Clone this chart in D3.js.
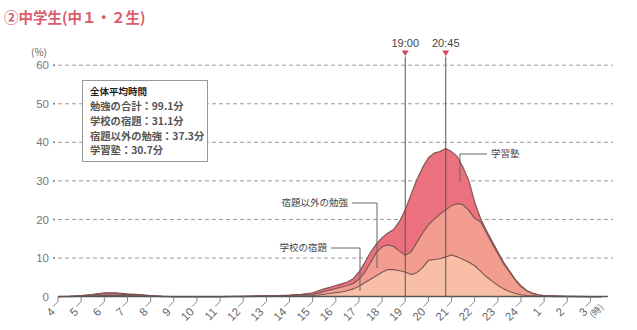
<!DOCTYPE html>
<html>
<head>
<meta charset="utf-8">
<script src="https://cdn.jsdelivr.net/npm/d3@7"></script>
<style>
  html, body { margin: 0; padding: 0; background: #fff; }
  svg { display: block; font-family: "Noto Sans CJK JP", "Noto Sans", sans-serif; }
</style>
</head>
<body>
<svg id="chart" width="637" height="330"></svg>
<script>
// ---- data ----
const hours = [4, 4.5, 5, 5.5, 6, 6.5, 7, 7.5, 8, 8.5, 9, 10, 11, 12, 13, 13.5, 14, 14.5,
  15, 15.25, 15.5, 15.75, 16, 16.25, 16.5, 16.75, 17, 17.25, 17.5, 17.75, 18, 18.25, 18.5, 18.75,
  19, 19.25, 19.5, 19.75, 20, 20.25, 20.5, 20.75, 21, 21.25, 21.5, 21.75, 22, 22.25, 22.5, 22.75,
  23, 23.25, 23.5, 23.75, 24, 24.25, 24.5, 24.75, 25, 25.5, 26, 26.5, 27, 27.5];
// 学校の宿題 (school homework)
const homework = [0, 0, 0.1, 0.2, 0.3, 0.3, 0.3, 0.2, 0.1, 0, 0, 0, 0, 0, 0.1, 0.1, 0.2, 0.2,
  0.3, 0.4, 0.6, 0.8, 1.0, 1.2, 1.5, 2.0, 2.7, 3.6, 4.5, 5.4, 6.3, 7.0, 7.0, 6.7,
  6.4, 5.7, 6.2, 7.5, 9.4, 9.6, 9.8, 10.3, 10.8, 10.3, 9.6, 8.9, 8.0, 6.6, 5.2, 4.0,
  2.9, 2.0, 1.3, 0.8, 0.5, 0.3, 0.2, 0.1, 0.1, 0, 0, 0, 0, 0];
// 宿題以外の勉強 (study other than homework)
const otherStudy = [0, 0.1, 0.1, 0.2, 0.4, 0.4, 0.2, 0.2, 0.1, 0.1, 0, 0, 0, 0.1, 0.1, 0.2, 0.1, 0.3,
  0.3, 0.5, 0.7, 0.9, 1.1, 1.3, 1.4, 1.4, 1.8, 2.7, 4.3, 6.0, 6.6, 6.4, 6.0, 5.1,
  4.3, 5.9, 7.8, 9.0, 9.2, 10.4, 11.6, 12.2, 12.8, 13.8, 14.2, 13.4, 12.3, 12.8, 11.4, 9.8,
  8.2, 6.5, 5.1, 3.5, 2.1, 1.2, 0.6, 0.3, 0.1, 0.1, 0.1, 0, 0, 0];
// 学習塾 (cram school)
const juku = [0, 0, 0.1, 0.2, 0.3, 0.3, 0.2, 0.1, 0.1, 0, 0, 0, 0, 0, 0, 0, 0.1, 0.1,
  0.4, 0.6, 0.7, 0.7, 0.8, 0.8, 0.9, 1.2, 1.9, 2.5, 2.7, 2.2, 2.4, 3.1, 4.4, 7.7,
  11.8, 14.9, 16.3, 17.0, 17.4, 17.2, 16.2, 15.9, 14.0, 12.2, 9.7, 7.7, 4.2, 0.9, 0.6, 0.6,
  0.5, 0.4, 0.3, 0.2, 0.2, 0.1, 0.1, 0.1, 0.1, 0.1, 0, 0.1, 0, 0];

const yTicks = [0, 10, 20, 30, 40, 50, 60];
const xTickHours = [4, 5, 6, 7, 8, 9, 10, 11, 12, 13, 14, 15, 16, 17, 18, 19, 20, 21, 22, 23, 24, 25, 26, 27];
const xTickLabels = ["4", "5", "6", "7", "8", "9", "10", "11", "12", "13", "14", "15", "16", "17", "18",
  "19", "20", "21", "22", "23", "24", "1", "2", "3"];
const markerTimes = [19, 20.75];
const markerLabels = ["19:00", "20:45"];
const legendTitle = "全体平均時間";
const legendLines = ["勉強の合計：99.1分", "学校の宿題：31.1分", "宿題以外の勉強：37.3分", "学習塾：30.7分"];
const seriesKeys = ["homework", "otherStudy", "juku"];
const seriesNames = ["学校の宿題", "宿題以外の勉強", "学習塾"];
const title = "②中学生(中１・２生)";

// ---- layout ----
const svg = d3.select("#chart");
const x = d3.scaleLinear().domain([4, 28]).range([58, 613.6]);
const y = d3.scaleLinear().domain([0, 60]).range([296.6, 65.2]);
const axisEndHour = 27.75;

const table = hours.map((h, i) => ({ h, homework: homework[i], otherStudy: otherStudy[i], juku: juku[i] }));
const stacked = d3.stack().keys(seriesKeys)(table);
const fills = ["#f8bfa6", "#f39c90", "#ea717d"];

// title
svg.append("text").attr("x", 4).attr("y", 23).attr("fill", "#dd5b6c")
  .attr("font-size", 14.5).attr("font-weight", 700).text(title);

// (%) label
svg.append("text").attr("x", 31).attr("y", 56).attr("fill", "#666").attr("font-size", 10).text("(%)");

// grid lines
const grid = svg.append("g");
yTicks.filter(d => d > 0).forEach(d => {
  grid.append("line").attr("x1", 58).attr("x2", 613).attr("y1", y(d)).attr("y2", y(d))
    .attr("stroke", "#9a9a9a").attr("stroke-width", 1).attr("stroke-dasharray", "4,3");
  grid.append("circle").attr("cx", 54).attr("cy", y(d)).attr("r", 1).attr("fill", "#777");
});
yTicks.forEach(d => {
  grid.append("text").attr("x", 49).attr("y", y(d)).attr("dy", "0.36em").attr("text-anchor", "end")
    .attr("fill", "#777").attr("font-size", 11.5).attr("font-family", "Liberation Sans, Arial, sans-serif").text(d);
});

// areas
const area = d3.area().x(d => x(d.data.h)).y0(d => y(d[0])).y1(d => y(d[1])).curve(d3.curveLinear);
const line = d3.line().x(d => x(d.data.h)).y(d => y(d[1])).curve(d3.curveLinear);
svg.append("g").selectAll("path").data(stacked).join("path")
  .attr("d", area).attr("fill", (d, i) => fills[i]);
svg.append("g").selectAll("path").data(stacked).join("path")
  .attr("d", line).attr("fill", "none").attr("stroke", "#7a5352").attr("stroke-width", 1.1)
  .attr("stroke-linejoin", "round");

// x axis baseline and ticks
const ax = svg.append("g");
ax.append("line").attr("x1", x(4)).attr("x2", x(axisEndHour)).attr("y1", y(0)).attr("y2", y(0))
  .attr("stroke", "#555").attr("stroke-width", 1.5);
xTickHours.forEach((h, i) => {
  const tx = x(h), ty = y(0);
  ax.append("path").attr("d", `M${tx},${ty} L${tx},${ty + 5} L${tx - 5},${ty + 10}`)
    .attr("fill", "none").attr("stroke", "#777").attr("stroke-width", 0.9);
  ax.append("text").attr("transform", `translate(${tx - 5},${ty + 13}) rotate(-45)`)
    .attr("text-anchor", "end").attr("dy", "0.35em").attr("fill", "#666").attr("font-size", 11.5)
    .attr("font-family", "Liberation Sans, Arial, sans-serif").text(xTickLabels[i]);
});
ax.append("text").attr("transform", `translate(${x(27) + 3},${y(0) + 22}) rotate(-45)`)
  .attr("text-anchor", "start").attr("fill", "#666").attr("font-size", 9).text("(時)");

// marker lines
markerTimes.forEach((t, i) => {
  const mx = x(t);
  svg.append("line").attr("x1", mx).attr("x2", mx).attr("y1", 56.5).attr("y2", y(0))
    .attr("stroke", "#555").attr("stroke-width", 1);
  svg.append("path").attr("d", `M${mx - 3.5},${50.5} L${mx + 3.5},${50.5} L${mx},${56}Z`).attr("fill", "#d84558");
  svg.append("text").attr("x", mx).attr("y", 47).attr("text-anchor", "middle").attr("fill", "#444")
    .attr("font-size", 11).attr("font-family", "Liberation Sans, Arial, sans-serif").text(markerLabels[i]);
});

// legend box
const lg = svg.append("g");
lg.append("rect").attr("x", 82.5).attr("y", 80.5).attr("width", 125).attr("height", 81)
  .attr("fill", "#fff").attr("stroke", "#999").attr("stroke-width", 1);
lg.append("text").attr("x", 90).attr("y", 92).attr("dy", "0.36em").attr("fill", "#222")
  .attr("font-size", 9.5).attr("font-weight", 700).text(legendTitle);
legendLines.forEach((s, i) => {
  lg.append("text").attr("x", 90).attr("y", 106.5 + i * 14.7).attr("dy", "0.36em").attr("fill", "#555")
    .attr("font-size", 10.3).attr("font-weight", 700).text(s);
});

// annotations
const ann = svg.append("g").attr("font-size", 9.5).attr("fill", "#444");
const leader = (d) => ann.append("path").attr("d", d).attr("fill", "none").attr("stroke", "#666").attr("stroke-width", 1);
// 学習塾
leader("M487,154 L460,154 L460,182");
ann.append("text").attr("x", 491).attr("y", 154).attr("dy", "0.36em").text(seriesNames[2]);
// 宿題以外の勉強
leader("M352,203 L377,203 L377,268");
ann.append("text").attr("x", 348).attr("y", 203).attr("dy", "0.36em").attr("text-anchor", "end").text(seriesNames[1]);
// 学校の宿題
leader("M331,248 L360,248 L360,291");
ann.append("text").attr("x", 327).attr("y", 248).attr("dy", "0.36em").attr("text-anchor", "end").text(seriesNames[0]);
</script>
</body>
</html>
